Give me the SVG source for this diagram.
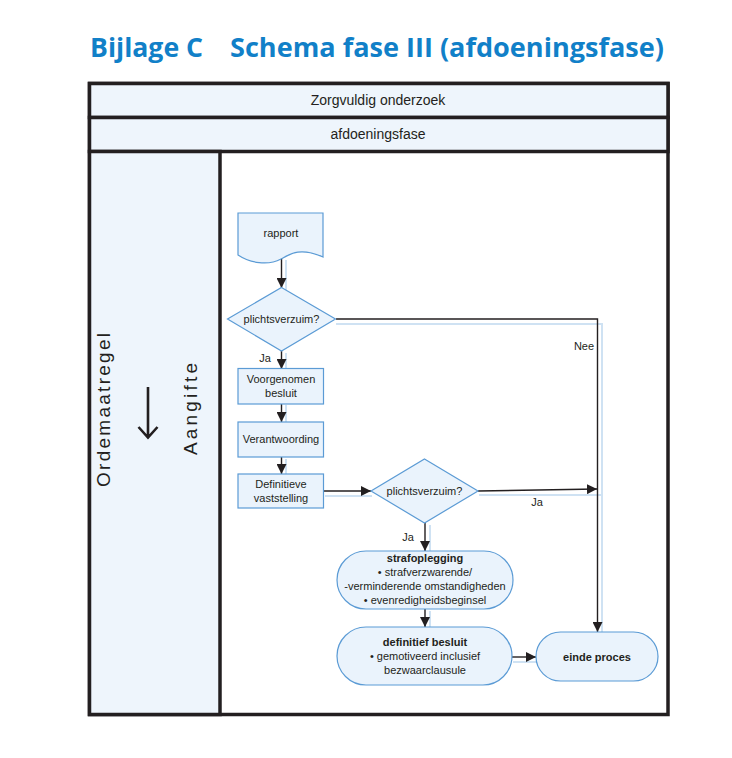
<svg xmlns="http://www.w3.org/2000/svg" width="732" height="758" viewBox="0 0 732 758">
<defs>
<style>
.title{font-family:"Open Sans","Liberation Sans",sans-serif;font-weight:bold;font-size:27px;fill:#1180c8}
.hdr{font-family:"Liberation Sans",sans-serif;font-size:14px;fill:#231f20}
.t{font-family:"Liberation Sans",sans-serif;font-size:11px;fill:#231f20}
.b{font-weight:bold}
.side{font-family:"Liberation Sans",sans-serif;font-size:19px;fill:#231f20}
.shape{fill:#eaf3fc;stroke:#5b9bd5;stroke-width:1.2}
.band{fill:#eef5fc;stroke:#231f20;stroke-width:3.5}
.con{fill:none;stroke:#231f20;stroke-width:1.4}
.sh{fill:none;stroke:#cfe2f3;stroke-width:2}
</style>
<marker id="ah" viewBox="0 0 10 10" refX="10" refY="5" markerWidth="10" markerHeight="10" markerUnits="userSpaceOnUse" orient="auto">
<path d="M0,0 L10,5 L0,10 Z" fill="#231f20"/>
</marker>
</defs>
<rect width="732" height="758" fill="#ffffff"/>
<g id="title">
<text class="title" x="90" y="57" textLength="113" lengthAdjust="spacingAndGlyphs">Bijlage C</text>
<text class="title" x="230" y="57" textLength="434" lengthAdjust="spacingAndGlyphs">Schema fase III (afdoeningsfase)</text>
</g>

<g id="frame">
<rect x="89.5" y="83.5" width="578.5" height="631" fill="#ffffff" stroke="#231f20" stroke-width="3.5"/>
<rect class="band" x="89.5" y="83.5" width="578.5" height="34"/>
<rect class="band" x="89.5" y="117.5" width="578.5" height="34"/>
<rect class="band" x="89.5" y="151.5" width="130.5" height="563"/>
</g>
<g id="hdr1"><text class="hdr" x="378" y="105" text-anchor="middle">Zorgvuldig onderzoek</text></g>
<g id="hdr2"><text class="hdr" x="378" y="139" text-anchor="middle">afdoeningsfase</text></g>
<g id="side">
<text class="side" transform="translate(110,410) rotate(-90)" text-anchor="middle" textLength="154" lengthAdjust="spacing">Ordemaatregel</text>
<text class="side" transform="translate(197,409) rotate(-90)" text-anchor="middle" textLength="92" lengthAdjust="spacing">Aangifte</text>
<path d="M148,387 V437 M138.5,427 L148,437.5 L157.5,427" fill="none" stroke="#231f20" stroke-width="2.6"/>
</g>

<g id="connectors">
<g class="sh-group">
<path class="sh" d="M286,260 V290"/>
<path class="sh" d="M336,324 H602 V633"/>
<path class="sh" d="M286,353 V369"/>
<path class="sh" d="M286,405 V422"/>
<path class="sh" d="M286,459 V474"/>
<path class="sh" d="M325,496 H372"/>
<path class="sh" d="M479,495 H602"/>
<path class="sh" d="M430,525 V551"/>
<path class="sh" d="M430,611 V628"/>
<path class="sh" d="M513,662 H538"/>
</g>
<path class="con" d="M281.5,258 V288" marker-end="url(#ah)"/>
<path class="con" d="M336,319 H597.5 V632" marker-end="url(#ah)"/>
<path class="con" d="M281.5,351 V369" marker-end="url(#ah)"/>
<path class="con" d="M281.5,404 V422" marker-end="url(#ah)"/>
<path class="con" d="M281.5,457 V474" marker-end="url(#ah)"/>
<path class="con" d="M324,491 H371" marker-end="url(#ah)"/>
<path class="con" d="M478,491 L597,489" marker-end="url(#ah)"/>
<path class="con" d="M425,523 V551" marker-end="url(#ah)"/>
<path class="con" d="M425,609 V627" marker-end="url(#ah)"/>
<path class="con" d="M512,657 H536" marker-end="url(#ah)"/>
<text class="t" x="584" y="350" text-anchor="middle">Nee</text>
<text class="t" x="265" y="362" text-anchor="middle">Ja</text>
<text class="t" x="537" y="506" text-anchor="middle">Ja</text>
<text class="t" x="408" y="541" text-anchor="middle">Ja</text>
</g>

<g id="rapport">
<path class="shape" d="M238,213 H323 V257 C300,247 290,254 281,259 C268,266 250,263 238,255 Z"/>
<text class="t" x="281" y="237" text-anchor="middle">rapport</text>
</g>
<g id="dec1">
<path class="shape" d="M281.5,287.5 L335.5,319 L281.5,351 L227.5,319 Z"/>
<text class="t" x="281.5" y="323" text-anchor="middle">plichtsverzuim?</text>
</g>
<g id="voorgenomen">
<rect class="shape" x="238" y="368.5" width="85.5" height="35.5"/>
<text class="t" x="281" y="383" text-anchor="middle">Voorgenomen</text>
<text class="t" x="281" y="397" text-anchor="middle">besluit</text>
</g>
<g id="verantwoording">
<rect class="shape" x="238" y="422" width="85.5" height="35"/>
<text class="t" x="281" y="443" text-anchor="middle">Verantwoording</text>
</g>
<g id="definitieve">
<rect class="shape" x="238" y="474" width="85.5" height="34"/>
<text class="t" x="281" y="488" text-anchor="middle">Definitieve</text>
<text class="t" x="281" y="502" text-anchor="middle">vaststelling</text>
</g>
<g id="dec2">
<path class="shape" d="M424.5,459 L478,491 L424.5,523 L371,491 Z"/>
<text class="t" x="424.5" y="495" text-anchor="middle">plichtsverzuim?</text>
</g>
<g id="strafoplegging">
<rect class="shape" x="337" y="551" width="176" height="58" rx="29" ry="29"/>
<text class="t b" x="425" y="562" text-anchor="middle">strafoplegging</text>
<text class="t" x="425" y="576" text-anchor="middle">• strafverzwarende/</text>
<text class="t" x="425" y="590" text-anchor="middle">-verminderende omstandigheden</text>
<text class="t" x="425" y="604" text-anchor="middle">• evenredigheidsbeginsel</text>
</g>
<g id="definitief">
<rect class="shape" x="337" y="627" width="175" height="58" rx="29" ry="29"/>
<text class="t b" x="425" y="646" text-anchor="middle">definitief besluit</text>
<text class="t" x="425" y="660" text-anchor="middle">• gemotiveerd inclusief</text>
<text class="t" x="425" y="674" text-anchor="middle">bezwaarclausule</text>
</g>
<g id="einde">
<rect class="shape" x="536" y="632" width="122" height="49" rx="24.5" ry="24.5"/>
<text class="t b" x="597" y="661" text-anchor="middle">einde proces</text>
</g>
</svg>
